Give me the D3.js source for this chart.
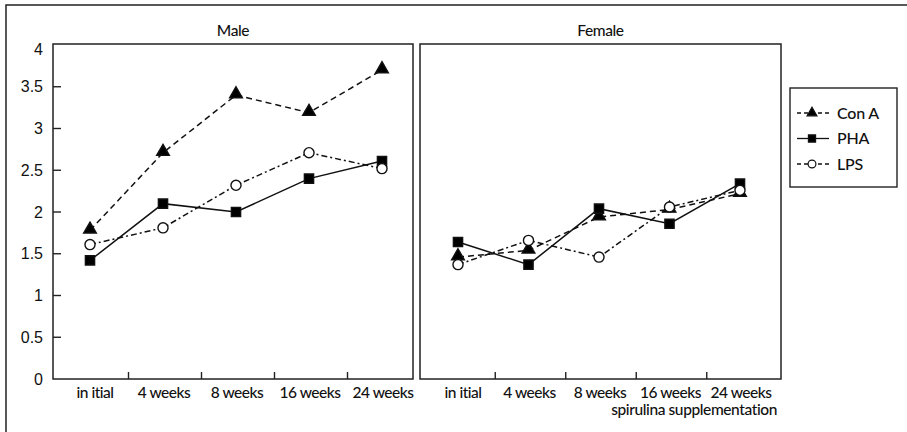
<!DOCTYPE html>
<html>
<head>
<meta charset="utf-8">
<script src="https://cdn.jsdelivr.net/npm/d3@7"></script>
<style>
  body { margin: 0; background: #fff; }
  text { fill: #111; }
</style>
</head>
<body>
<div id="chart"></div>
<script>
let width = 907;
let height = 432;

// values
let categories = ['in itial', '4 weeks', '8 weeks', '16 weeks', '24 weeks'];
let maleConA = [1.78, 2.71, 3.40, 3.19, 3.70];
let malePHA = [1.42, 2.10, 2.00, 2.40, 2.61];
let maleLPS = [1.61, 1.81, 2.32, 2.71, 2.52];
let femaleConA = [1.46, 1.54, 1.94, 2.03, 2.22];
let femalePHA = [1.64, 1.37, 2.04, 1.86, 2.34];
let femaleLPS = [1.37, 1.66, 1.46, 2.06, 2.26];
let yTicks = [0.5, 1, 1.5, 2, 2.5, 3, 3.5];
let yLabels = [0, 0.5, 1, 1.5, 2, 2.5, 3, 3.5, 4];
let seriesNames = ['Con A', 'PHA', 'LPS'];

let styles = {
	'Con A': {dash: '6,4', symbol: d3.symbolTriangle, size: 70, fill: '#000'},
	'PHA': {dash: null, symbol: d3.symbolSquare, size: 85, fill: '#000'},
	'LPS': {dash: '6,3,2,3', symbol: d3.symbolCircle, size: 80, fill: '#fff'}
};

let panels = [
	{title: 'Male', left: 53, right: 413, first: 90, last: 382, showY: true,
		data: {'Con A': maleConA, 'PHA': malePHA, 'LPS': maleLPS}},
	{title: 'Female', left: 420, right: 781, first: 458, last: 740, showY: false,
		data: {'Con A': femaleConA, 'PHA': femalePHA, 'LPS': femaleLPS}}
];

let plotTop = 44;
let plotBottom = 379;
let labelFont = '500 15.5px Lato';

let yScale = d3.scaleLinear()
		.domain([0, 4])
		.range([plotBottom, plotTop + 1]);

let svg = d3.select('#chart')
		.append('svg')
		.attr('width', width)
		.attr('height', height);

// outer frame (top + left only, like the scan)
svg.append('path')
		.attr('d', `M6,${height}V5H${width}`)
		.attr('fill', 'none')
		.attr('stroke', '#222')
		.attr('stroke-width', 1.5);

panels.forEach(function(p) {
	let xScale = d3.scalePoint()
			.domain(categories)
			.range([p.first, p.last]);

	let g = svg.append('g');

	g.append('rect')
			.attr('x', p.left)
			.attr('y', plotTop)
			.attr('width', p.right - p.left)
			.attr('height', plotBottom - plotTop)
			.attr('fill', 'none')
			.attr('stroke', '#222')
			.attr('stroke-width', 1.5);

	g.append('text')
			.attr('x', (p.left + p.right) / 2)
			.attr('y', 36)
			.attr('text-anchor', 'middle')
			.style('font', labelFont)
			.style('letter-spacing', '-0.4px')
			.text(p.title);

	// x ticks between categories, pointing inward
	let mids = d3.pairs(categories).map(c => (xScale(c[0]) + xScale(c[1])) / 2 + 2);
	g.selectAll('.xtick')
			.data(mids)
			.enter()
			.append('line')
			.attr('x1', d => d)
			.attr('x2', d => d)
			.attr('y1', plotBottom)
			.attr('y2', plotBottom - 7)
			.attr('stroke', '#222')
			.attr('stroke-width', 1.4);

	g.selectAll('.xlabel')
			.data(categories)
			.enter()
			.append('text')
			.attr('x', (d, i) => xScale(d) + (i === 0 ? 5 : 1))
			.attr('y', 398)
			.attr('text-anchor', 'middle')
			.style('font', labelFont)
			.style('letter-spacing', '-0.5px')
			.text(d => d);

	if (p.showY) {
		g.selectAll('.ytick')
				.data(yTicks)
				.enter()
				.append('line')
				.attr('x1', p.left)
				.attr('x2', p.left + 8)
				.attr('y1', d => yScale(d))
				.attr('y2', d => yScale(d))
				.attr('stroke', '#222')
				.attr('stroke-width', 1.4);

		g.selectAll('.ylabel')
				.data(yLabels)
				.enter()
				.append('text')
				.attr('x', 43)
				.attr('y', d => yScale(d) + (d === 4 ? 10 : 5.5))
				.attr('text-anchor', 'end')
				.style('font', '16px "Liberation Sans"')
				.text(d => d);
	}

	seriesNames.forEach(function(name) {
		let st = styles[name];
		let values = p.data[name];
		let line = d3.line()
				.x((v, i) => xScale(categories[i]))
				.y(v => yScale(v));

		g.append('path')
				.attr('d', line(values))
				.attr('fill', 'none')
				.attr('stroke', '#111')
				.attr('stroke-width', 1.5)
				.attr('stroke-dasharray', st.dash);

		g.selectAll(null)
				.data(values)
				.enter()
				.append('path')
				.attr('d', d3.symbol().type(st.symbol).size(st.size))
				.attr('transform', (v, i) => `translate(${xScale(categories[i])},${yScale(v) + (name === 'Con A' ? -1 : 0)})`)
				.attr('fill', st.fill)
				.attr('stroke', '#111')
				.attr('stroke-width', 1.4);
	});
});

// legend
let legend = svg.append('g');
legend.append('rect')
		.attr('x', 790)
		.attr('y', 88)
		.attr('width', 107)
		.attr('height', 99)
		.attr('fill', '#fff')
		.attr('stroke', '#222')
		.attr('stroke-width', 1.4);

let legendY = d3.scalePoint()
		.domain(seriesNames)
		.range([113, 164]);

seriesNames.forEach(function(name) {
	let st = styles[name];
	let y = legendY(name);
	legend.append('line')
			.attr('x1', 797)
			.attr('x2', 829)
			.attr('y1', y)
			.attr('y2', y)
			.attr('stroke', '#111')
			.attr('stroke-width', 1.3)
			.attr('stroke-dasharray', name === 'PHA' ? null : '4,3');
	legend.append('path')
			.attr('d', d3.symbol().type(st.symbol).size(st.size * 0.6))
			.attr('transform', `translate(812,${y})`)
			.attr('fill', st.fill)
			.attr('stroke', '#111')
			.attr('stroke-width', 1.2);
	legend.append('text')
			.attr('x', 837)
			.attr('y', y + 5.5)
			.style('font', '500 16px Lato')
			.style('letter-spacing', '-0.2px')
			.text(name);
});

svg.append('text')
		.attr('x', 777)
		.attr('y', 415)
		.attr('text-anchor', 'end')
		.style('font', labelFont)
		.style('letter-spacing', '-0.4px')
		.text('spirulina supplementation');
</script>
</body>
</html>
